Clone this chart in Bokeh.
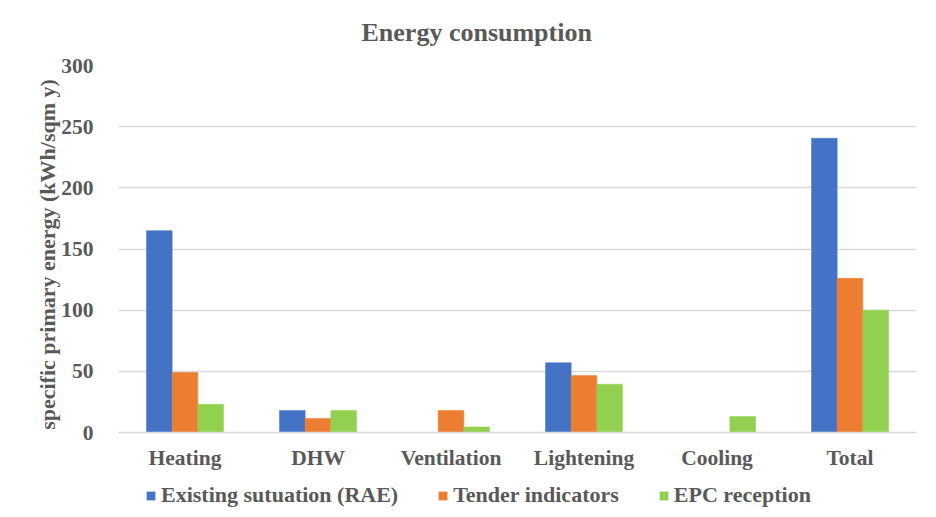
from bokeh.plotting import figure
from bokeh.models import ColumnDataSource, Legend, LegendItem, FactorRange, Range1d
from bokeh.layouts import column
from bokeh.transform import dodge
from bokeh.embed import file_html
from bokeh.resources import INLINE

categories = ["Heating", "DHW", "Ventilation", "Lightening", "Cooling", "Total"]
series_names = ["Existing sutuation (RAE)", "Tender indicators", "EPC reception"]
existing = [165, 18, 0, 57, 0, 240.5]
tender = [49, 11.5, 18, 46.5, 0, 126]
epc = [23, 18, 4.5, 39.5, 13, 100]
y_ticks = [0, 50, 100, 150, 200, 250, 300]

colors = ["#4472C4", "#ED7D31", "#92D050"]
FONT = "Liberation Serif"
TXT = "#595959"

src = ColumnDataSource(dict(cat=categories, existing=existing, tender=tender, epc=epc))

p = figure(x_range=FactorRange(*categories), y_range=Range1d(0, 300),
           width=920, height=480, output_backend="svg", toolbar_location=None,
           min_border_left=118, min_border_right=4, min_border_top=65, min_border_bottom=48)

bw = 0.193
cols = ["existing", "tender", "epc"]
for i, (col, c) in enumerate(zip(cols, colors)):
    p.vbar(x=dodge("cat", (i - 1) * bw, range=p.x_range), top=col, width=bw,
           source=src, fill_color=c, line_color=c, line_width=0.5)

p.title.text = "Energy consumption"
p.title.text_font = FONT
p.title.text_font_size = "26px"
p.title.text_font_style = "bold"
p.title.text_color = TXT
p.title.align = "left"
p.title.offset = 243
p.title.vertical_align = "top"
p.title.standoff = 33

p.outline_line_color = None
p.xgrid.grid_line_color = None
p.ygrid.grid_line_color = "#d9d9d9"
p.ygrid.grid_line_width = 1.3
p.yaxis.ticker = y_ticks

for ax in (p.xaxis[0], p.yaxis[0]):
    ax.major_tick_line_color = None
    ax.minor_tick_line_color = None
    ax.major_label_text_font = FONT
    ax.major_label_text_font_style = "bold"
    ax.major_label_text_color = TXT
    ax.major_label_text_font_size = "21.5px"

p.yaxis.axis_line_color = None
p.xaxis.axis_line_color = "#d9d9d9"
p.xaxis.axis_line_width = 1.3
p.yaxis.major_label_standoff = 19
p.xaxis.major_label_standoff = 7

p.yaxis.axis_label = "specific primary energy  (kWh/sqm  y)"
p.yaxis.axis_label_text_font = FONT
p.yaxis.axis_label_text_font_style = "bold"
p.yaxis.axis_label_text_font_size = "22px"
p.yaxis.axis_label_text_color = TXT
p.yaxis.axis_label_standoff = -2

# legend strip below the chart (its frame is aligned with the chart frame)
lg = figure(width=920, height=32, output_backend="svg", toolbar_location=None,
            x_range=Range1d(0, 1), y_range=Range1d(0, 1),
            min_border_left=0, min_border_right=0, min_border_top=0, min_border_bottom=0)
lg.axis.visible = False
lg.grid.grid_line_color = None
lg.outline_line_color = None
proxy = ColumnDataSource(dict(x=[-50], bottom=[-50], top=[-49]))  # legend proxy, off-screen
items = []
for name, c in zip(series_names, colors):
    r = lg.vbar(x="x", bottom="bottom", top="top", width=0.1, source=proxy,
                fill_color=c, line_color=None)
    items.append(LegendItem(label=name, renderers=[r]))
legend = Legend(items=items, orientation="horizontal", location=(27, 4),
                label_text_font=FONT, label_text_font_style="bold",
                label_text_font_size="22px", label_text_color=TXT,
                glyph_width=11, glyph_height=11, spacing=39, label_standoff=5,
                border_line_color=None, background_fill_alpha=0, padding=0, margin=0)
lg.add_layout(legend, "center")

layout = column(p, lg, spacing=0)
open("out.html", "w").write(file_html(layout, INLINE))
